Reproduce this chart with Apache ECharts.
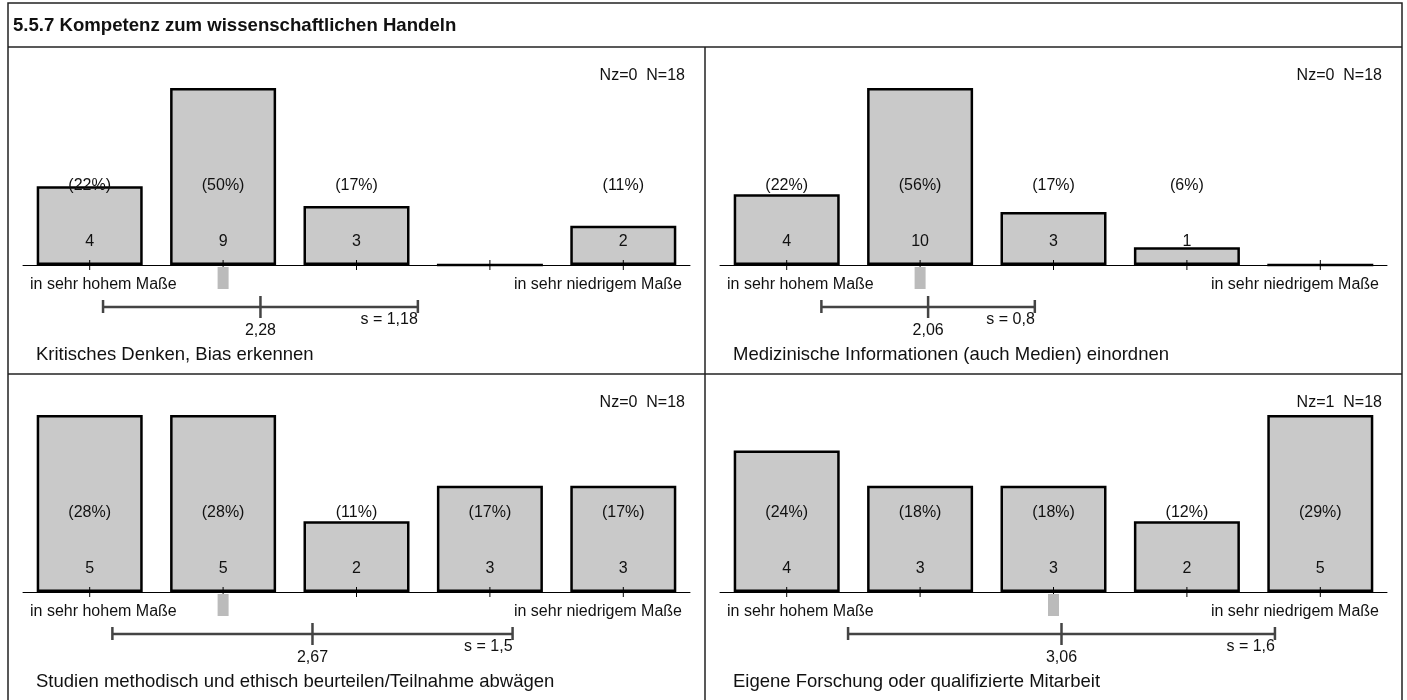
<!DOCTYPE html>
<html><head><meta charset="utf-8">
<script src="https://cdn.jsdelivr.net/npm/echarts@6/dist/echarts.min.js"></script>
<style>html,body{margin:0;padding:0;background:#fff}#c{width:1407px;height:700px}</style>
</head><body><div id="c"></div><script>
const chartTitle = '5.5.7 Kompetenz zum wissenschaftlichen Handeln';
const categories = [1, 2, 3, 4, 5];
const scaleLabels = ['in sehr hohem Maße', 'in sehr niedrigem Maße'];
const itemTitles = [
  'Kritisches Denken, Bias erkennen',
  'Medizinische Informationen (auch Medien) einordnen',
  'Studien methodisch und ethisch beurteilen/Teilnahme abwägen',
  'Eigene Forschung oder qualifizierte Mitarbeit'
];
const counts1 = [4, 9, 3, 0, 2];
const counts2 = [4, 10, 3, 1, 0];
const counts3 = [5, 5, 2, 3, 3];
const counts4 = [4, 3, 3, 2, 5];
const pcts1 = [22, 50, 17, 0, 11];
const pcts2 = [22, 56, 17, 6, 0];
const pcts3 = [28, 28, 11, 17, 17];
const pcts4 = [24, 18, 18, 12, 29];
const means = [2.28, 2.06, 2.67, 3.06];
const sds = [1.18, 0.8, 1.5, 1.6];
const medians = [2, 2, 2, 3];
const nzs = [0, 0, 0, 1];
const ns = [18, 18, 18, 18];

const FONT = '"Liberation Sans", Arial, sans-serif';
const allCounts = [counts1, counts2, counts3, counts4];
const allPcts = [pcts1, pcts2, pcts3, pcts4];
const panelPos = [[8, 47], [705, 47], [8, 374], [705, 374]];
const X_MIN = 0.5, X_MAX = 5.5;
const fmt = v => String(v).replace('.', ',');

const grids = [], xAxes = [], yAxes = [], series = [], graphics = [];

function txt(x, y, text, size, align, weight) {
  return {type: 'text', x: x, y: y, silent: true,
    style: {text: text, fontSize: size, fontFamily: FONT, fontWeight: weight || 'normal',
      fill: '#111', align: align, verticalAlign: 'middle'}};
}

panelPos.forEach((pp, i) => {
  const counts = allCounts[i], pcts = allPcts[i];
  grids.push({left: pp[0] + 15, top: pp[1] + 41, width: 667, height: 177});
  xAxes.push({gridIndex: i, type: 'value', min: X_MIN, max: X_MAX,
    axisLine: {show: true, onZero: false, lineStyle: {color: '#000', width: 1}},
    axisTick: {show: false}, axisLabel: {show: false}, splitLine: {show: false}});
  yAxes.push({gridIndex: i, type: 'value', min: 0, max: Math.max(...counts), show: false});
  series.push({type: 'bar', xAxisIndex: i, yAxisIndex: i, barWidth: 106, z: 2,
    silent: true, animation: false,
    itemStyle: {color: '#c9c9c9', borderColor: '#000', borderWidth: 2.5},
    data: categories.map((c, k) => [c, counts[k]])});
  series.push({type: 'custom', xAxisIndex: i, yAxisIndex: i, z: 5, silent: true,
    animation: false, clip: false, encode: {x: 0, y: 1},
    data: categories.map((c, k) => [c, counts[k], pcts[k]]),
    renderItem: (params, api) => {
      const p = api.coord([api.value(0), 0]);
      const cnt = api.value(1), pct = api.value(2);
      const ch = [{type: 'line', shape: {x1: p[0], y1: p[1] - 5, x2: p[0], y2: p[1] + 5},
        style: {stroke: '#000', lineWidth: 1}}];
      if (cnt > 0) {
        ch.push(txt(p[0], p[1] - 23, String(cnt), 16, 'center'));
        ch.push(txt(p[0], p[1] - 79, '(' + pct + '%)', 16, 'center'));
      }
      return {type: 'group', children: ch};
    }});
  series.push({type: 'custom', xAxisIndex: i, yAxisIndex: i, z: 5, silent: true,
    animation: false, clip: false, encode: {x: 0},
    data: [[means[i], sds[i], medians[i]]],
    renderItem: (params, api) => {
      const m = api.value(0), s = api.value(1), med = api.value(2);
      const pm = api.coord([m, 0]), pl = api.coord([m - s, 0]), pr = api.coord([m + s, 0]);
      const pmed = api.coord([med, 0]);
      const a0 = api.coord([X_MIN, 0]), a1 = api.coord([X_MAX, 0]);
      const y = pm[1];
      const ls = {stroke: '#444', lineWidth: 2.5};
      return {type: 'group', children: [
        {type: 'rect', shape: {x: pmed[0] - 5.5, y: y + 2, width: 11, height: 22}, style: {fill: '#bbbbbb'}},
        {type: 'line', shape: {x1: pl[0], y1: y + 42, x2: pr[0], y2: y + 42}, style: ls},
        {type: 'line', shape: {x1: pl[0], y1: y + 35, x2: pl[0], y2: y + 48}, style: ls},
        {type: 'line', shape: {x1: pr[0], y1: y + 35, x2: pr[0], y2: y + 48}, style: ls},
        {type: 'line', shape: {x1: pm[0], y1: y + 31, x2: pm[0], y2: y + 53}, style: ls},
        txt(pm[0], y + 66, fmt(m), 16, 'center'),
        txt(pr[0], y + 55, 's = ' + fmt(s), 16, 'right'),
        txt(a0[0] + 7, y + 20, scaleLabels[0], 16, 'left'),
        txt(a1[0] - 8, y + 20, scaleLabels[1], 16, 'right')
      ]};
    }});
  graphics.push(txt(pp[0] + 677, pp[1] + 29, 'Nz=' + nzs[i] + '  N=' + ns[i], 16, 'right'));
  graphics.push(txt(pp[0] + 28, pp[1] + 308, itemTitles[i], 18.5, 'left'));
});

const frame = {stroke: '#222', lineWidth: 1.5};
graphics.push({type: 'rect', shape: {x: 8, y: 3, width: 1394, height: 720}, style: Object.assign({fill: 'none'}, frame), silent: true});
graphics.push({type: 'line', shape: {x1: 8, y1: 47, x2: 1402, y2: 47}, style: frame, silent: true});
graphics.push({type: 'line', shape: {x1: 8, y1: 374, x2: 1402, y2: 374}, style: frame, silent: true});
graphics.push({type: 'line', shape: {x1: 705, y1: 47, x2: 705, y2: 720}, style: frame, silent: true});
graphics.push(txt(13, 26, chartTitle, 18.6, 'left', 'bold'));

const chart = echarts.init(document.getElementById('c'), null, {renderer: 'canvas'});
chart.setOption({
  animation: false,
  grid: grids, xAxis: xAxes, yAxis: yAxes, series: series,
  graphic: {elements: graphics}
});
</script></body></html>
